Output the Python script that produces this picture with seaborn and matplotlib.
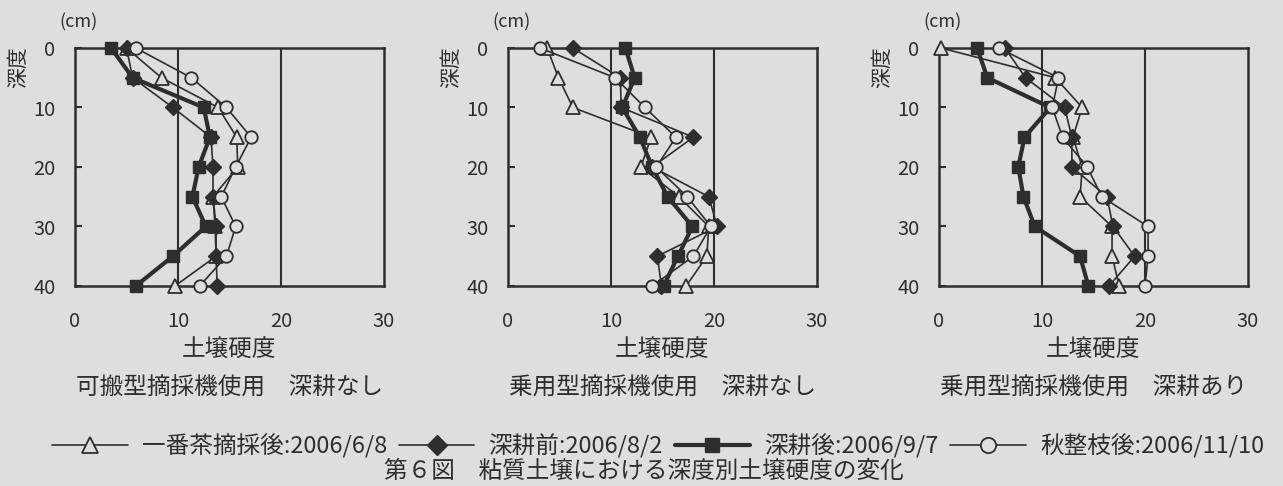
import numpy as np
import pandas as pd
import matplotlib
matplotlib.use("Agg")
import matplotlib.pyplot as plt
from matplotlib.lines import Line2D
import seaborn as sns

# ---- data ----
depths = [0, 5, 10, 15, 20, 25, 30, 35, 40]
series_names = ["一番茶摘採後:2006/6/8", "深耕前:2006/8/2", "深耕後:2006/9/7", "秋整枝後:2006/11/10"]
panel_titles = ["可搬型摘採機使用　深耕なし", "乗用型摘採機使用　深耕なし", "乗用型摘採機使用　深耕あり"]

tri1 = [5.0, 8.4, 13.9, 15.7, 15.8, 13.4, 13.6, 13.7, 9.7]
dia1 = [5.0, 5.6, 9.5, 13.2, 13.4, 13.4, 13.7, 13.7, 13.8]
sq1 = [3.5, 5.6, 12.5, 13.1, 12.0, 11.4, 12.7, 9.5, 5.9]
cir1 = [5.9, 11.3, 14.7, 17.1, 15.6, 14.2, 15.6, 14.7, 12.1]

tri2 = [3.8, 4.9, 6.3, 13.9, 12.9, 16.6, 19.5, 19.3, 17.3]
dia2 = [6.3, 10.9, 11.0, 18.0, 14.0, 19.5, 20.3, 14.5, 14.9]
sq2 = [11.4, 12.3, 11.1, 12.8, 14.0, 15.5, 17.9, 16.5, 15.1]
cir2 = [3.1, 10.4, 13.3, 16.3, 14.4, 17.4, 19.7, 18.0, 14.0]

tri3 = [0.2, 11.3, 13.9, 13.0, 13.9, 13.7, 16.8, 16.8, 17.5]
dia3 = [6.4, 8.4, 12.2, 12.9, 12.9, 16.3, 16.9, 19.0, 16.5]
sq3 = [3.7, 4.7, 10.8, 8.3, 7.7, 8.2, 9.3, 13.7, 14.5]
cir3 = [5.8, 11.6, 11.0, 12.0, 14.4, 15.8, 20.3, 20.3, 20.0]

x_ticks = [0, 10, 20, 30]
y_ticks = [0, 10, 20, 30, 40]

panels = [[tri1, dia1, sq1, cir1], [tri2, dia2, sq2, cir2], [tri3, dia3, sq3, cir3]]

# ---- style ----
sns.set_theme(style="white")
plt.rcParams['font.family'] = ['Noto Sans CJK JP', 'DejaVu Sans']
BG = "#dedede"
INK = "#2e2e2e"

styles = [
    dict(marker="^", ms=10, mfc=BG, mec=INK, mew=1.3, lw=1.2),
    dict(marker="D", ms=8, mfc=INK, mec=INK, mew=1.0, lw=1.2),
    dict(marker="s", ms=8.5, mfc=INK, mec=INK, mew=1.0, lw=3.0),
    dict(marker="o", ms=9, mfc=BG, mec=INK, mew=1.3, lw=1.2),
]
zorders = [3, 4, 5, 6]

W, H = 1283, 486
fig = plt.figure(figsize=(W / 100, H / 100), dpi=100)
fig.patch.set_facecolor(BG)

lefts = [75, 508, 939]
top, bottom = 48, 286
pw = 309

for pi, (left, vals, title) in enumerate(zip(lefts, panels, panel_titles)):
    ax = fig.add_axes([left / W, 1 - bottom / H, pw / W, (bottom - top) / H])
    ax.set_facecolor(BG)
    for xv in [10, 20]:
        ax.axvline(xv, color=INK, lw=1.5, zorder=1)
    for si, (v, st) in enumerate(zip(vals, styles)):
        df = pd.DataFrame({"x": v, "y": depths})
        sns.lineplot(data=df, x="x", y="y", sort=False, estimator=None, ax=ax,
                     color=INK, linewidth=st["lw"], marker=st["marker"],
                     markersize=st["ms"], markerfacecolor=st["mfc"],
                     markeredgecolor=st["mec"], markeredgewidth=st["mew"],
                     zorder=zorders[si], clip_on=False)
    ax.set_xlim(0, 30)
    ax.set_ylim(40, 0)
    ax.set_xticks(x_ticks)
    ax.set_yticks(y_ticks)
    ax.tick_params(axis="x", length=0, pad=18, labelsize=14.5, colors=INK)
    ax.tick_params(axis="y", left=True, direction="in", length=5, width=1.5,
                   pad=14, labelsize=14.5, colors=INK)
    ax.set_xlabel("")
    ax.set_ylabel("")
    for sp in ax.spines.values():
        sp.set_color(INK)
        sp.set_linewidth(1.8)
        sp.set_visible(True)
    ax.text(0.01, 1 + (top - 22) / (bottom - top), "(cm)", transform=ax.transAxes,
            ha="center", va="center", fontsize=13, color=INK)
    ax.text((18 - 75) / pw, 1 - (67 - top) / (bottom - top), "深度", transform=ax.transAxes,
            ha="center", va="center", rotation=90, fontsize=15, color=INK)
    ax.text(0.5, -(350 - bottom) / (bottom - top), "土壌硬度", transform=ax.transAxes,
            ha="center", va="center", fontsize=17, color=INK)
    ax.text(0.5, -(388 - bottom) / (bottom - top), title, transform=ax.transAxes,
            ha="center", va="center", fontsize=17, color=INK)

handles = []
for st in styles:
    handles.append(Line2D([0], [0], color=INK, lw=st["lw"], marker=st["marker"],
                          ms=st["ms"] + 2, mfc=st["mfc"], mec=st["mec"], mew=st["mew"]))
fig.legend(handles, series_names, loc="center", bbox_to_anchor=(0.513, 1 - 446 / H),
           ncol=4, frameon=False, fontsize=17, handlelength=3.2, handletextpad=0.6,
           columnspacing=0.5, labelcolor=INK)

fig.text(644 / W, 1 - 471 / H, "第６図　粘質土壌における深度別土壌硬度の変化",
         ha="center", va="center", fontsize=17, color=INK)

fig.savefig("out.png", dpi=100, facecolor=BG)
